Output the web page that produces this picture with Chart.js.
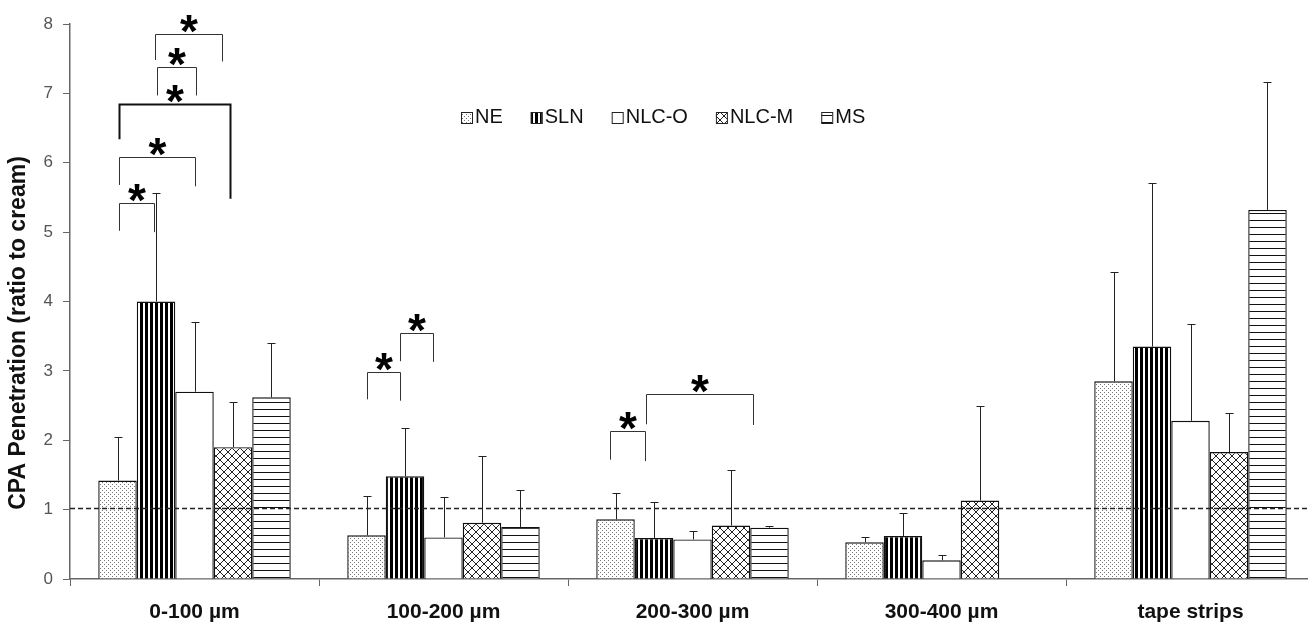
<!DOCTYPE html>
<html>
<head>
<meta charset="utf-8">
<title>CPA Penetration</title>
<script src="https://cdn.jsdelivr.net/npm/chart.js@4.4.1/dist/chart.umd.min.js"></script>
<style>
  html, body { margin: 0; padding: 0; background: #fff; overflow: hidden; }
  #wrap { width: 1320px; height: 623px; }
</style>
</head>
<body>
<div id="wrap"><canvas id="cpa-chart"></canvas></div>
<script>
const categories = ["0-100 µm", "100-200 µm", "200-300 µm", "300-400 µm", "tape strips"];
const seriesNames = ["NE", "SLN", "NLC-O", "NLC-M", "MS"];

// mean values (ratio to cream) and upper error (SD) per layer
const neValues = [1.42, 0.63, 0.86, 0.53, 2.85];
const neErrors = [0.63, 0.57, 0.38, 0.08, 1.58];
const slnValues = [4.00, 1.48, 0.59, 0.62, 3.35];
const slnErrors = [1.57, 0.70, 0.52, 0.33, 2.36];
const nlcoValues = [2.70, 0.60, 0.57, 0.27, 2.28];
const nlcoErrors = [1.01, 0.58, 0.12, 0.07, 1.40];
const nlcmValues = [1.90, 0.81, 0.77, 1.13, 1.83];
const nlcmErrors = [0.65, 0.96, 0.80, 1.36, 0.56];
const msValues = [2.62, 0.75, 0.74, null, 5.32];
const msErrors = [0.78, 0.53, 0.03, null, 1.85];

const yTicks = [0, 1, 2, 3, 4, 5, 6, 7, 8];
const referenceLevel = 1.02;

// significant pairs: [layer, from bar, to bar, bracket top, left leg end, right leg end, heavy]
// bar positions count from the NE bar (0) to the MS bar (4)
const significance = [
  [0, 0.97, 2.71, 7.86, 7.48, 7.46, false],
  [0, 1.03, 2.04, 7.38, 6.97, 6.97, false],
  [0, 0.03, 2.91, 6.84, 6.34, 5.48, true],
  [0, 0.03, 2.02, 6.08, 5.68, 5.66, false],
  [0, 0.03, 0.96, 5.42, 5.02, 5.00, false],
  [1, 0.00, 0.86, 2.99, 2.59, 2.57, false],
  [1, 0.86, 1.74, 3.55, 3.14, 3.13, false],
  [2, -0.14, 0.76, 2.13, 1.72, 1.70, false],
  [2, 0.79, 3.58, 2.66, 2.23, 2.22, false],
];

const FONT = "'Liberation Sans', Arial, sans-serif";

function makePattern(kind) {
  const c = document.createElement("canvas");
  const g = c.getContext("2d");
  if (kind === "dots") {
    c.width = 4; c.height = 4;
    g.fillStyle = "#fff"; g.fillRect(0, 0, 4, 4);
    g.fillStyle = "#777";
    g.fillRect(0, 0, 1, 1);
    g.fillRect(2, 2, 1, 1);
  } else if (kind === "vertical") {
    c.width = 5; c.height = 5;
    g.fillStyle = "#000"; g.fillRect(0, 0, 5, 5);
    g.fillStyle = "#fff"; g.fillRect(3, 0, 2, 5);
  } else if (kind === "cross") {
    c.width = 8; c.height = 8;
    g.fillStyle = "#fff"; g.fillRect(0, 0, 8, 8);
    g.strokeStyle = "#222"; g.lineWidth = 1;
    g.beginPath();
    g.moveTo(0, 0); g.lineTo(8, 8);
    g.moveTo(8, 0); g.lineTo(0, 8);
    g.stroke();
  } else if (kind === "horizontal") {
    c.width = 7; c.height = 7;
    g.fillStyle = "#fff"; g.fillRect(0, 0, 7, 7);
    g.fillStyle = "#111"; g.fillRect(0, 3, 7, 1);
  } else {
    c.width = 1; c.height = 1;
    g.fillStyle = "#fff"; g.fillRect(0, 0, 1, 1);
  }
  return g.createPattern(c, "repeat");
}

const fills = ["dots", "vertical", "plain", "cross", "horizontal"].map(makePattern);
const allValues = [neValues, slnValues, nlcoValues, nlcmValues, msValues];
const allErrors = [neErrors, slnErrors, nlcoErrors, nlcmErrors, msErrors];

const datasets = seriesNames.map((name, i) => ({
  label: name,
  data: allValues[i],
  errors: allErrors[i],
  backgroundColor: fills[i],
  borderColor: "#111",
  borderWidth: 1.4,
  borderSkipped: "bottom",
  categoryPercentage: 0.773,
  barPercentage: 1.0,
}));

const overlay = {
  id: "overlay",
  afterDatasetsDraw(chart) {
    const { ctx, chartArea, scales: { y } } = chart;

    // reference line at ratio 1
    ctx.save();
    const ry = Math.round(y.getPixelForValue(referenceLevel)) + 0.5;
    ctx.strokeStyle = "#222";
    ctx.lineWidth = 1.3;
    ctx.setLineDash([5, 3]);
    ctx.beginPath();
    ctx.moveTo(chartArea.left, ry);
    ctx.lineTo(chartArea.right, ry);
    ctx.stroke();
    ctx.restore();

    // error bars (upper only)
    ctx.save();
    ctx.strokeStyle = "#222";
    ctx.lineWidth = 1;
    chart.data.datasets.forEach((ds, i) => {
      chart.getDatasetMeta(i).data.forEach((bar, j) => {
        const v = ds.data[j], e = ds.errors[j];
        if (v == null || e == null) return;
        const x = Math.round(bar.x) + 0.5;
        const y0 = y.getPixelForValue(v);
        const y1 = Math.round(y.getPixelForValue(v + e)) + 0.5;
        ctx.beginPath();
        ctx.moveTo(x, y0);
        ctx.lineTo(x, y1);
        ctx.moveTo(x - 4, y1);
        ctx.lineTo(x + 4, y1);
        ctx.stroke();
      });
    });
    ctx.restore();

    // significance brackets
    const neMeta = chart.getDatasetMeta(0);
    ctx.save();
    ctx.font = "bold 46px " + FONT;
    ctx.textAlign = "center";
    ctx.textBaseline = "alphabetic";
    const starBox = ctx.measureText("*");
    significance.forEach(([g, p0, p1, top, leg0, leg1, heavy]) => {
      const ref = neMeta.data[g];
      const w = ref.width;
      const xa = Math.round(ref.x + p0 * w) + 0.5;
      const xb = Math.round(ref.x + p1 * w) + 0.5;
      const yt = Math.round(y.getPixelForValue(top)) + 0.5;
      ctx.strokeStyle = heavy ? "#111" : "#333";
      ctx.lineWidth = heavy ? 2 : 1;
      ctx.beginPath();
      ctx.moveTo(xa, y.getPixelForValue(leg0));
      ctx.lineTo(xa, yt);
      ctx.lineTo(xb, yt);
      ctx.lineTo(xb, y.getPixelForValue(leg1));
      ctx.stroke();
      ctx.fillStyle = "#000";
      ctx.fillText("*", (xa + xb) / 2, yt - 2 - starBox.actualBoundingBoxDescent);
    });
    ctx.restore();
  },
  afterDraw(chart) {
    const { ctx } = chart;

    // legend inside the plot
    ctx.save();
    ctx.font = "20px " + FONT;
    ctx.textBaseline = "middle";
    let lx = 461;
    const ly = 117;
    chart.data.datasets.forEach((ds) => {
      ctx.fillStyle = ds.backgroundColor;
      ctx.fillRect(lx, ly - 5, 11, 11);
      ctx.strokeStyle = "#222";
      ctx.lineWidth = 1;
      ctx.strokeRect(lx + 0.5, ly - 5 + 0.5, 11, 11);
      lx += 14;
      ctx.fillStyle = "#111";
      ctx.fillText(ds.label, lx, ly);
      lx += ctx.measureText(ds.label).width + 28;
    });
    ctx.restore();

    // y-axis title
    ctx.save();
    ctx.font = "bold 23px " + FONT;
    ctx.fillStyle = "#111";
    ctx.textAlign = "center";
    ctx.textBaseline = "middle";
    ctx.translate(19, 333);
    ctx.rotate(-Math.PI / 2);
    ctx.fillText("CPA Penetration (ratio to cream)", 0, 0);
    ctx.restore();
  },
};

new Chart(document.getElementById("cpa-chart"), {
  type: "bar",
  data: { labels: categories, datasets },
  plugins: [overlay],
  options: {
    responsive: true,
    maintainAspectRatio: false,
    animation: false,
    layout: { padding: { left: 0, right: 5, top: 24, bottom: 0 } },
    plugins: {
      legend: { display: false },
      tooltip: { enabled: false },
    },
    scales: {
      x: {
        afterFit: (scale) => { scale.height = 44; },
        grid: { drawOnChartArea: false, tickLength: 7, tickColor: "#666", offset: true },
        border: { color: "#666", width: 1.5 },
        ticks: { color: "#111", padding: 14, font: { family: FONT, size: 21, weight: "bold" } },
      },
      y: {
        min: 0,
        max: 8,
        afterFit: (scale) => { scale.width = 70; },
        afterBuildTicks: (scale) => { scale.ticks = yTicks.map((v) => ({ value: v })); },
        grid: { drawOnChartArea: false, tickLength: 7, tickColor: "#666" },
        border: { color: "#666", width: 1.5 },
        ticks: { color: "#555", padding: 10, font: { family: FONT, size: 17 } },
      },
    },
  },
});
</script>
</body>
</html>
